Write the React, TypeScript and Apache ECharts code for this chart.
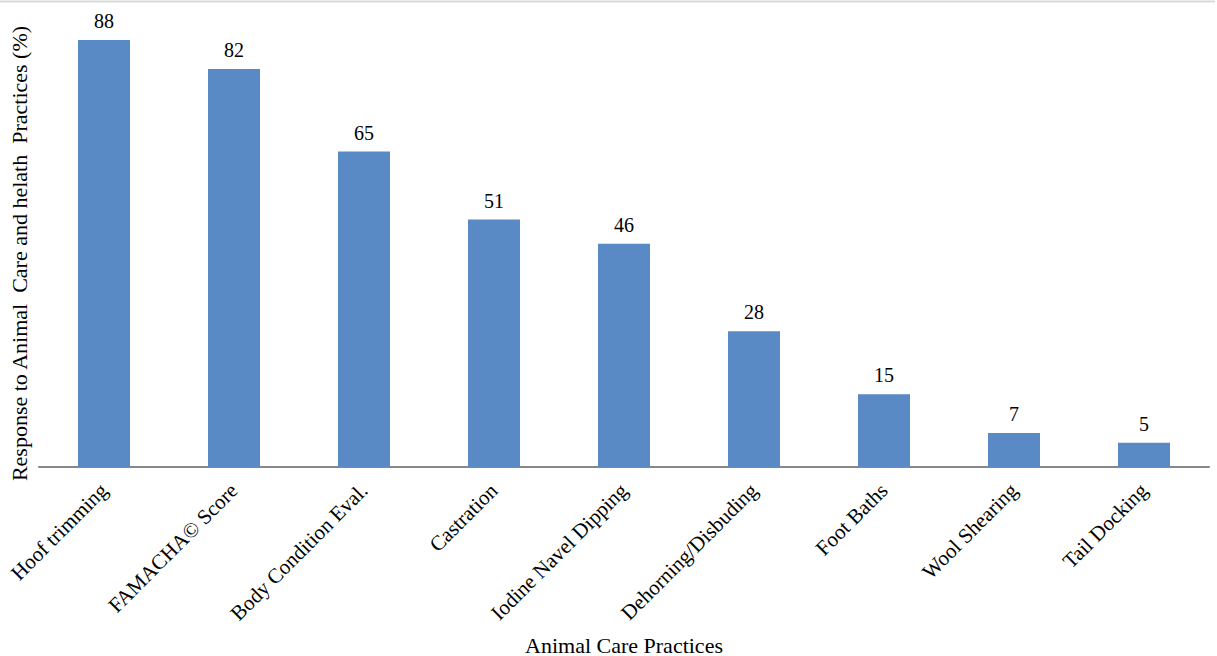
import React, { useEffect, useRef } from "react";
import * as echarts from "echarts";

const categories = [
  "Hoof trimming",
  "FAMACHA© Score",
  "Body Condition Eval.",
  "Castration",
  "Iodine Navel Dipping",
  "Dehorning/Disbuding",
  "Foot Baths",
  "Wool Shearing",
  "Tail Docking",
];
const values = [88, 82, 65, 51, 46, 28, 15, 7, 5];

const FONT = "'Liberation Serif', 'Times New Roman', serif";

export default function App() {
  const ref = useRef<HTMLDivElement>(null);
  useEffect(() => {
    const chart = echarts.init(ref.current!, null, { renderer: "svg" });
    chart.setOption({
      animation: false,
      backgroundColor: "#ffffff",
      textStyle: { fontFamily: FONT },
      graphic: [
        {
          type: "line",
          shape: { x1: 0, y1: 1.5, x2: 1215, y2: 1.5 },
          style: { stroke: "#d9d9d9", lineWidth: 2 },
        },
      ],
      grid: {
        left: 39,
        right: 8,
        top: 40,
        bottom: 189,
        containLabel: false,
        outerBoundsMode: "none",
      },
      xAxis: {
        type: "category",
        data: categories,
        name: "Animal Care Practices",
        nameLocation: "middle",
        nameGap: 167,
        nameTextStyle: { fontFamily: FONT, fontSize: 22, color: "#000" },
        axisLine: { lineStyle: { color: "#878787", width: 2 } },
        axisTick: { show: false },
        axisLabel: {
          rotate: 45,
          interval: 0,
          fontFamily: FONT,
          fontSize: 21,
          color: "#000",
          margin: 20,
        },
      },
      yAxis: {
        type: "value",
        min: 0,
        max: 88,
        name: "Response to Animal  Care and helath  Practices (%)",
        nameLocation: "middle",
        nameGap: 9,
        nameTextStyle: { fontFamily: FONT, fontSize: 22, color: "#000" },
        axisLine: { show: false },
        axisTick: { show: false },
        axisLabel: { show: false },
        splitLine: { show: false },
      },
      series: [
        {
          type: "bar",
          data: values,
          barWidth: "40%",
          itemStyle: { color: "#5A8AC6" },
          label: {
            show: true,
            position: "top",
            distance: 9,
            fontFamily: FONT,
            fontSize: 20,
            color: "#000",
          },
        },
      ],
    });
    return () => chart.dispose();
  }, []);
  return (
    <div
      ref={ref}
      style={{ position: "fixed", left: 0, top: 0, width: 1217, height: 656 }}
    />
  );
}
